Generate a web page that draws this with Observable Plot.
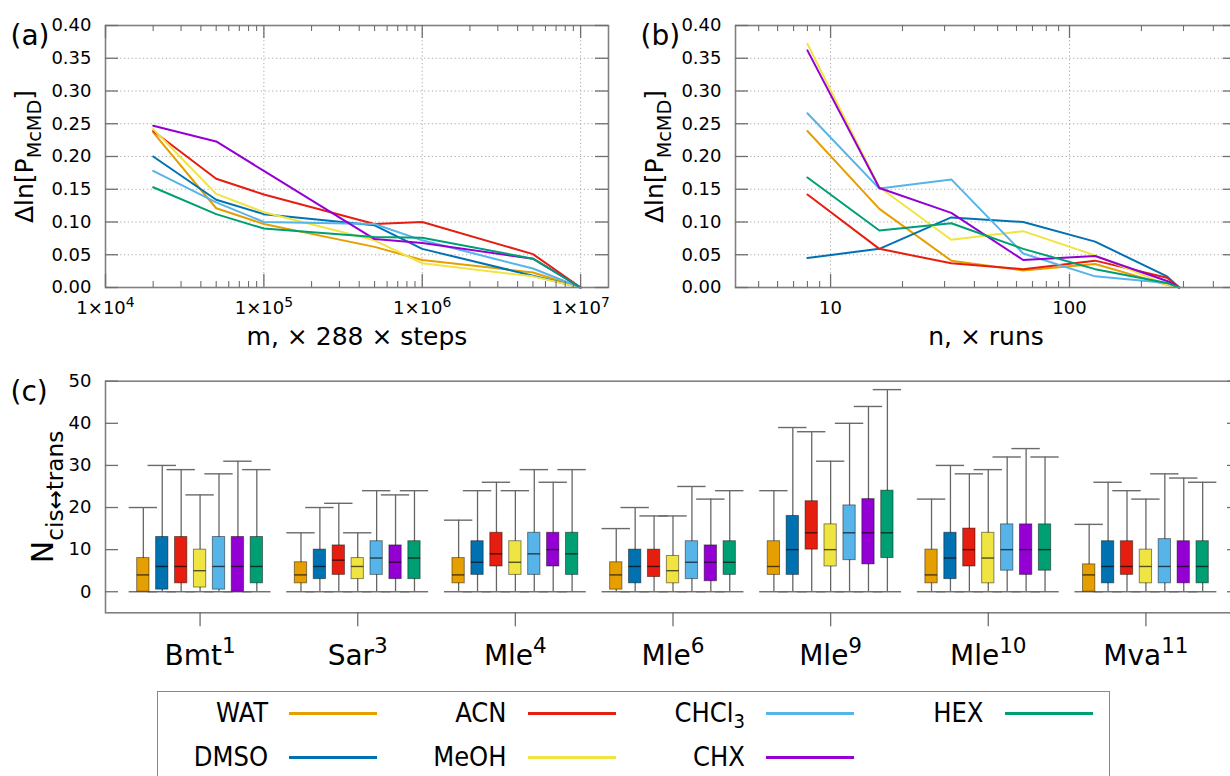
<!DOCTYPE html>
<html><head><meta charset="utf-8">
<script src="https://cdn.jsdelivr.net/npm/d3@7"></script>
<script src="https://cdn.jsdelivr.net/npm/@observablehq/plot@0.6"></script>
<style>
html,body{margin:0;padding:0;background:#fff;overflow:hidden;}
#fig{position:relative;width:1230px;height:776px;overflow:hidden;background:#fff;}
.panel{position:absolute;}
#legend{position:absolute;left:157px;top:691px;width:953px;height:120px;border:1.5px solid #888;box-sizing:border-box;}
.lg-text{position:absolute;font-family:"DejaVu Sans Condensed","DejaVu Sans",sans-serif;font-stretch:condensed;font-size:27px;text-align:right;width:200px;line-height:27px;white-space:nowrap;}
.lg-text sub{font-size:20px;vertical-align:-6px;line-height:0;}
.lg-line{position:absolute;height:3px;}
</style></head><body><div id="fig"></div>
<script>
// ---------- data ----------
const solvents = ["WAT", "DMSO", "ACN", "MeOH", "CHCl3", "CHX", "HEX"];
const solventLabels = ["WAT", "DMSO", "ACN", "MeOH", "CHCl<sub>3</sub>", "CHX", "HEX"];
const solventColors = ["#e69f00", "#0072b2", "#e51e10", "#f0e442", "#56b4e9", "#9400d3", "#009e73"];

// panel (a): x = m (× 288 × steps)
const mSteps = [2e4, 5e4, 1e5, 5e5, 1e6, 5e6, 1e7];
const a_WAT   = [0.237, 0.121, 0.097, 0.062, 0.042, 0.023, 0];
const a_DMSO  = [0.200, 0.134, 0.112, 0.095, 0.059, 0.018, 0];
const a_ACN   = [0.239, 0.166, 0.142, 0.097, 0.100, 0.051, 0];
const a_MeOH  = [0.242, 0.143, 0.115, 0.072, 0.037, 0.017, 0];
const a_CHCl3 = [0.178, 0.130, 0.100, 0.097, 0.072, 0.029, 0];
const a_CHX   = [0.247, 0.223, 0.178, 0.074, 0.068, 0.044, 0];
const a_HEX   = [0.153, 0.112, 0.090, 0.077, 0.076, 0.044, 0];

// panel (b): x = n (× runs)
const nRuns = [8, 16, 32, 64, 128, 256, 288];
const b_WAT   = [0.239, 0.120, 0.041, 0.026, 0.036, 0.004, 0];
const b_DMSO  = [0.045, 0.059, 0.107, 0.100, 0.070, 0.017, 0];
const b_ACN   = [0.142, 0.059, 0.037, 0.028, 0.041, 0.015, 0];
const b_MeOH  = [0.372, 0.153, 0.073, 0.086, 0.049, 0.004, 0];
const b_CHCl3 = [0.266, 0.151, 0.165, 0.052, 0.017, 0.007, 0];
const b_CHX   = [0.362, 0.152, 0.114, 0.042, 0.048, 0.010, 0];
const b_HEX   = [0.168, 0.087, 0.098, 0.059, 0.028, 0.007, 0];

// panel (c): [min, q1, median, q3, max] per peptide group
const groups = ["Bmt^{1}", "Sar^{3}", "Mle^{4}", "Mle^{6}", "Mle^{9}", "Mle^{10}", "Mva^{11}"];
const c_WAT   = [[0,0,4,8,20],[0,2,4,7,14],[0,2,4,8,17],[0,0.5,4,7,15],[0,4,6,12,24],[0,2,4,10,22],[0,0,4,6.5,16]];
const c_DMSO  = [[0,0.5,6,13,30],[0,3,6,10,20],[0,4,7,12,24],[0,2,6,10,20],[0,4,10,18,39],[0,3,8,14,30],[0,2,6,12,26]];
const c_ACN   = [[0,2,6,13,29],[0,4,7.5,11,21],[0,6,9,14,26],[0,3.5,6,10,18],[0,10,14,21.5,38],[0,6,10,15,28],[0,4,6,12,24]];
const c_MeOH  = [[0,1,5,10,23],[0,3,6,8,14],[0,4,7,12,24],[0,2,5,8.5,18],[0,6,10,16,31],[0,2,8,14,29],[0,2,6,10,22]];
const c_CHCl3 = [[0,0.5,6,13,28],[0,4,8,12,24],[0,4,9,14,29],[0,3,7,12,25],[0,7.5,14,20.5,40],[0,5,10,16,32],[0,2,6,12.5,28]];
const c_CHX   = [[0,0,6,13,31],[0,3,7,11,23],[0,6,10,14,26],[0,2.5,7,11,22],[0,6.5,14,22,44],[0,4,10,16,34],[0,2,6,12,27]];
const c_HEX   = [[0,2,6,13,29],[0,3,8,12,24],[0,4,9,14,29],[0,4,7,12,24],[0,8,14,24,48],[0,5,10,16,32],[0,2,6,12,26]];

// ticks
const yTicksAB = [0, 0.05, 0.10, 0.15, 0.20, 0.25, 0.30, 0.35, 0.40];
const aXMajor = [1e4, 1e5, 1e6, 1e7];
const aXMinor = [2,3,4,5,6,7,8,9].flatMap(k => [k*1e4, k*1e5, k*1e6]);
const bXMajor = [10, 100];
const bXMinor = [5,6,7,8,9,20,30,40,50,60,70,80,90,200,300,400];
const cYTicks = [0, 10, 20, 30, 40, 50];

// ---------- helpers ----------
const fig = document.getElementById("fig");
const TICK = "#6e6e6e", FRAME = "#808080";
const baseStyle = {fontFamily: "DejaVu Sans", fontSize: "18px", background: "transparent", overflow: "visible", maxWidth: "none"};

function place(svg, left, top, w, h) {
  const d = document.createElement("div");
  d.className = "panel";
  d.style.left = left + "px"; d.style.top = top + "px";
  d.style.width = w + "px"; d.style.height = h + "px";
  d.appendChild(svg);
  fig.appendChild(d);
  richText(svg);
}

// turns "A_{b}" / "A^{b}" into tspans (sizes in em of the parent text)
function richText(root) {
  const R = 0.77;
  root.querySelectorAll("text").forEach(t => {
    const s = t.textContent;
    if (!/[_^]\{/.test(s)) return;
    while (t.firstChild) t.removeChild(t.firstChild);
    const re = /([_^])\{([^}]*)\}/g;
    let last = 0, m, shift = 0; // shift in parent em
    const add = (str, dyEm, small) => {
      const ts = document.createElementNS("http://www.w3.org/2000/svg", "tspan");
      ts.textContent = str;
      if (small) {
        ts.setAttribute("font-size", R + "em");
        ts.setAttribute("dy", (dyEm / R).toFixed(3) + "em");
      } else if (dyEm) ts.setAttribute("dy", dyEm.toFixed(3) + "em");
      t.appendChild(ts);
    };
    while ((m = re.exec(s))) {
      if (m.index > last) { add(s.slice(last, m.index), -shift, false); shift = 0; }
      const d = m[1] === "_" ? 0.32 : -0.42;
      add(m[2], d - shift, true);
      shift = d;
      last = re.lastIndex;
    }
    if (last < s.length) add(s.slice(last), -shift, false);
  });
}

function linePanel({series, xs, xDomain, xMajor, xMinor, xFormat, xTitle, tag, width, marginRight}) {
  const ML = 105, MT = 25, MB = 73, H = 360;
  const FW = width - ML - marginRight, FH = H - MT - MB;
  const rows = solvents.flatMap((s, j) => series[j].map((v, i) => ({solvent: s, x: xs[i], y: v})));
  const grid = {stroke: "#a8a8a8", strokeOpacity: 1, strokeDasharray: "1.2,2.6", strokeWidth: 1};
  const inDom = v => v > xDomain[0] && v < xDomain[1];
  return Plot.plot({
    width, height: H, marginLeft: ML, marginRight, marginTop: MT, marginBottom: MB,
    style: baseStyle,
    x: {type: "log", domain: xDomain, label: null},
    y: {domain: [0, 0.4], label: null},
    color: {domain: solvents, range: solventColors},
    marks: [
      Plot.ruleY(yTicksAB.slice(1, -1), grid),
      Plot.ruleX(xMajor.filter(inDom), grid),
      Plot.line(rows, {x: "x", y: "y", z: "solvent", stroke: "solvent", strokeWidth: 2}),
      Plot.frame({stroke: FRAME, strokeWidth: 1.6}),
      Plot.tickY(yTicksAB, {y: d => d, insetRight: FW - 13, stroke: TICK, strokeWidth: 1.3}),
      Plot.tickY(yTicksAB, {y: d => d, insetLeft: FW - 13, stroke: TICK, strokeWidth: 1.3}),
      Plot.tickX(xMajor, {x: d => d, insetTop: FH - 13, stroke: TICK, strokeWidth: 1.3}),
      Plot.tickX(xMajor, {x: d => d, insetBottom: FH - 13, stroke: TICK, strokeWidth: 1.3}),
      Plot.tickX(xMinor.filter(inDom), {x: d => d, insetTop: FH - 6, stroke: TICK, strokeWidth: 1.1}),
      Plot.tickX(xMinor.filter(inDom), {x: d => d, insetBottom: FH - 6, stroke: TICK, strokeWidth: 1.1}),
      Plot.axisY({ticks: yTicksAB, tickSize: 0, tickPadding: 14, tickFormat: d3.format(".2f"), fontSize: 18, label: null}),
      Plot.axisX({ticks: xMajor, tickSize: 0, tickPadding: 14, tickFormat: xFormat, fontSize: 18, label: null}),
      Plot.text([xTitle], {text: d => d, frameAnchor: "bottom", dy: 57, fontSize: 25}),
      Plot.text(["Δln[P_{McMD}]"], {text: d => d, frameAnchor: "left", textAnchor: "middle", dx: -81, rotate: -90, fontSize: 25}),
      Plot.text([tag], {text: d => d, frameAnchor: "top-left", dx: -95, textAnchor: "start", fontSize: 28})
    ]
  });
}

// ---------- panel (a) ----------
place(linePanel({
  series: [a_WAT, a_DMSO, a_ACN, a_MeOH, a_CHCl3, a_CHX, a_HEX],
  xs: mSteps, xDomain: [1e4, 1.5e7], xMajor: aXMajor, xMinor: aXMinor,
  xFormat: d => `1×10^{${Math.round(Math.log10(d))}}`,
  xTitle: "m, × 288 × steps", tag: "(a)", width: 640, marginRight: 32
}), 0, 0, 640, 360);

// ---------- panel (b) ----------
place(linePanel({
  series: [b_WAT, b_DMSO, b_ACN, b_MeOH, b_CHCl3, b_CHX, b_HEX],
  xs: nRuns, xDomain: [4, 500], xMajor: bXMajor, xMinor: bXMinor,
  xFormat: d => String(d),
  xTitle: "n, × runs", tag: "(b)", width: 620, marginRight: 14
}), 630, 0, 620, 360);

// ---------- panel (c) ----------
(function () {
  const W = 1250, H = 335, ML = 105, MR = 10, MT = 25.7, MB = 77.7;
  const FW = W - ML - MR, FH = H - MT - MB;
  const cSeries = [c_WAT, c_DMSO, c_ACN, c_MeOH, c_CHCl3, c_CHX, c_HEX];
  const rows = [];
  groups.forEach((g, i) => solvents.forEach((s, j) => {
    const [mn, q1, med, q3, mx] = cSeries[j][i];
    rows.push({solvent: s, xc: i + 1 + (j - 3) * 0.12, mn, q1, med, q3, mx});
  }));
  const cap = 0.09, half = 0.039;
  const pos = groups.map((g, i) => i + 1);
  const svg = Plot.plot({
    width: W, height: H, marginLeft: ML, marginRight: MR, marginTop: MT, marginBottom: MB,
    style: baseStyle,
    x: {domain: [0.4, 7.6], label: null},
    y: {domain: [-5, 50], label: null},
    color: {domain: solvents, range: solventColors},
    marks: [
      Plot.ruleX(rows, {x: "xc", y1: "mn", y2: "mx", stroke: "#666", strokeWidth: 1.3}),
      Plot.ruleY(rows, {y: "mx", x1: d => d.xc - cap, x2: d => d.xc + cap, stroke: "#6a6a6a", strokeWidth: 1.4}),
      Plot.ruleY(rows, {y: "mn", x1: d => d.xc - cap, x2: d => d.xc + cap, stroke: "#6a6a6a", strokeWidth: 1.4}),
      Plot.rect(rows, {x1: d => d.xc - half, x2: d => d.xc + half, y1: "q1", y2: "q3", fill: "solvent", stroke: "#000", strokeOpacity: 0.45, strokeWidth: 1}),
      Plot.ruleY(rows, {y: "med", x1: d => d.xc - half, x2: d => d.xc + half, stroke: "#000", strokeOpacity: 0.65, strokeWidth: 1.4}),
      Plot.frame({stroke: FRAME, strokeWidth: 1.6}),
      Plot.tickY(cYTicks, {y: d => d, insetRight: FW - 13, stroke: TICK, strokeWidth: 1.3}),
      Plot.tickY(cYTicks, {y: d => d, insetLeft: FW - 13, stroke: TICK, strokeWidth: 1.3}),
      Plot.tickX(pos, {x: d => d, insetTop: FH, insetBottom: -14, stroke: TICK, strokeWidth: 1.3}),
      Plot.axisY({ticks: cYTicks, tickSize: 0, tickPadding: 14, fontSize: 18, label: null}),
      Plot.axisX({ticks: pos, tickSize: 0, tickPadding: 32, tickFormat: i => groups[i - 1], fontSize: 28, label: null}),
      Plot.text(["N_{cis↔trans}"], {text: d => d, frameAnchor: "left", textAnchor: "middle", dx: -62, rotate: -90, fontSize: 30}),
      Plot.text(["(c)"], {text: d => d, frameAnchor: "top-left", dx: -95, textAnchor: "start", fontSize: 28})
    ]
  });
  place(svg, 0, 355, W, H);
})();

// ---------- legend ----------
(function () {
  const lg = document.createElement("div");
  lg.id = "legend";
  fig.appendChild(lg);
  solvents.forEach((s, k) => {
    const col = Math.floor(k / 2), row = k % 2;
    const right = 268 + 238.5 * col;
    const cy = 713.3 + 44 * row;
    const t = document.createElement("div");
    t.className = "lg-text";
    t.innerHTML = solventLabels[k];
    t.style.left = (right - 200) + "px";
    t.style.top = (cy - 14) + "px";
    fig.appendChild(t);
    const l = document.createElement("div");
    l.className = "lg-line";
    l.style.left = (right + 21) + "px";
    l.style.width = "88px";
    l.style.top = (cy - 1.5) + "px";
    l.style.background = solventColors[k];
    fig.appendChild(l);
  });
})();
</script></body></html>
